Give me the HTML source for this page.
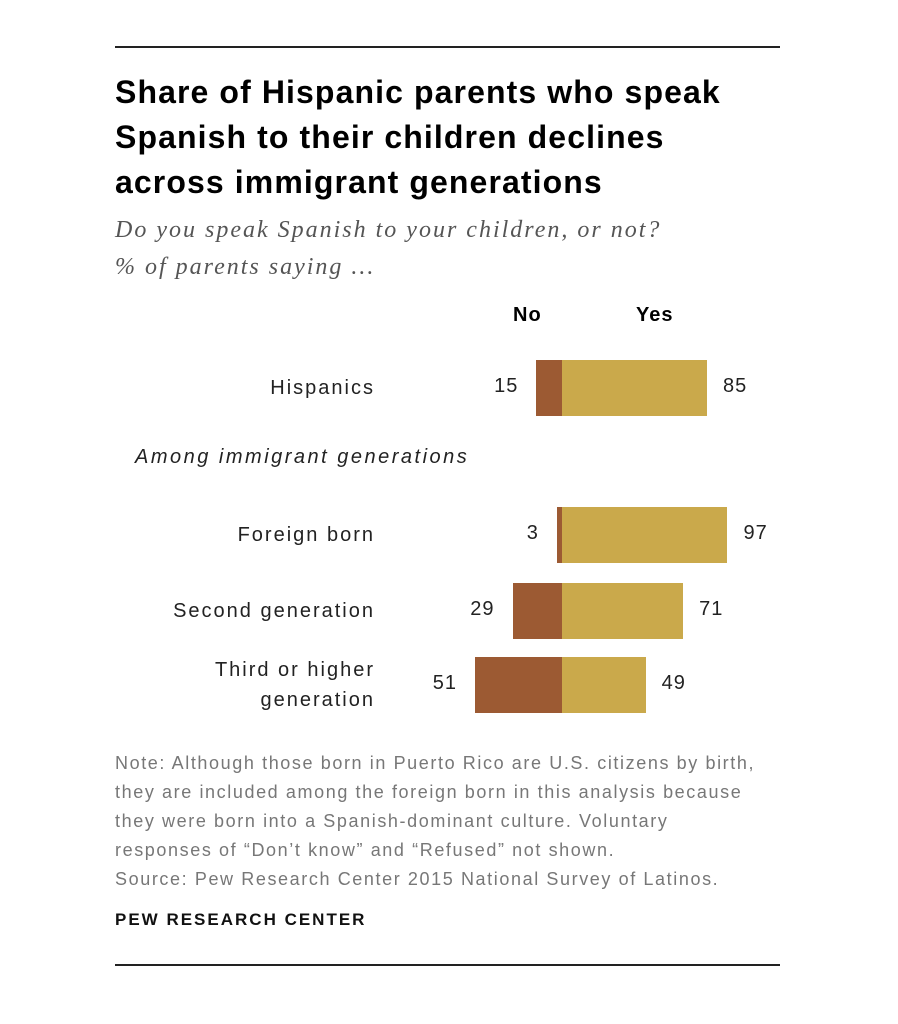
<!DOCTYPE html>
<html><head><meta charset="utf-8"><style>
body{margin:0;width:898px;height:1024px;background:#fff;position:relative;overflow:hidden;font-family:"Liberation Sans",sans-serif}
.abs{position:absolute}
.rule{position:absolute;left:115px;width:665px;height:2px;background:#222}
.title{left:115px;top:70px;font-size:32px;font-weight:bold;line-height:45px;color:#000;letter-spacing:1.1px;white-space:nowrap}
.sub{left:115px;top:212px;font-family:"Liberation Serif",serif;font-style:italic;font-size:24px;line-height:37px;color:#555;letter-spacing:2px;white-space:nowrap}
.lab{font-size:20px;color:#222;text-align:right;line-height:30px;letter-spacing:2px;white-space:nowrap}
.val{font-size:20px;color:#222;line-height:20px;letter-spacing:1px}
.note{left:115px;top:749px;font-size:18px;line-height:29px;color:#777;letter-spacing:1.6px;white-space:nowrap}
</style></head><body>
<div class="rule" style="top:46px"></div>
<div class="abs title">Share of Hispanic parents who speak<br>Spanish to their children declines<br>across immigrant generations</div>
<div class="abs sub">Do you speak Spanish to your children, or not?<br>% of parents saying ...</div>
<div class="abs" style="left:513px;top:304px;font-size:20px;font-weight:bold;letter-spacing:1px">No</div>
<div class="abs" style="left:636px;top:304px;font-size:20px;font-weight:bold;letter-spacing:1px">Yes</div>
<div class="abs" style="left:135px;top:446px;font-size:20px;font-style:italic;color:#222;letter-spacing:2.5px;white-space:nowrap">Among immigrant generations</div>
<div id="chart"></div>
<div class="abs note">Note: Although those born in Puerto Rico are U.S. citizens by birth,<br>they are included among the foreign born in this analysis because<br>they were born into a Spanish-dominant culture. Voluntary<br>responses of “Don’t know” and “Refused” not shown.<br>Source: Pew Research Center 2015 National Survey of Latinos.</div>
<div class="abs" style="left:115px;top:910px;font-size:17px;font-weight:bold;color:#111;letter-spacing:2px">PEW RESEARCH CENTER</div>
<div class="rule" style="top:964px"></div>
<script>
const categories=["Hispanics","Foreign born","Second generation","Third or higher<br>generation"];
const noValues=[15,3,29,51];
const yesValues=[85,97,71,49];
const rowTops=[360,507,583,657];
const zeroX=562, scale=1.706, barH=56;
const x=v=>v*scale;
const c=document.getElementById('chart');
categories.forEach((cat,i)=>{
  const top=rowTops[i];
  const lab=document.createElement('div');
  lab.className='abs lab';
  
  
  lab.style.cssText=`right:${898-375}px;top:${top+barH/2-(cat.includes('<br>')?30:15)}px`;
  lab.innerHTML=cat;c.appendChild(lab);
  const nb=document.createElement('div');
  nb.className='abs';
  
  
  nb.style.cssText=`left:${zeroX-x(noValues[i])}px;top:${top}px;width:${x(noValues[i])}px;height:${barH}px;background:#9c5a33`;
  c.appendChild(nb);
  const yb=document.createElement('div');
  yb.className='abs';
  
  
  yb.style.cssText=`left:${zeroX}px;top:${top}px;width:${x(yesValues[i])}px;height:${barH}px;background:#caa94b`;
  c.appendChild(yb);
  const nv=document.createElement('div');
  nv.className='abs val';
  
  
  nv.style.cssText=`right:${898-(zeroX-x(noValues[i])-18)}px;top:${top+barH/2-12}px`;
  nv.textContent=noValues[i];c.appendChild(nv);
  const yv=document.createElement('div');
  yv.className='abs val';
  
  
  yv.style.cssText=`left:${zeroX+x(yesValues[i])+16}px;top:${top+barH/2-12}px`;
  yv.textContent=yesValues[i];c.appendChild(yv);
});
</script>
</body></html>
